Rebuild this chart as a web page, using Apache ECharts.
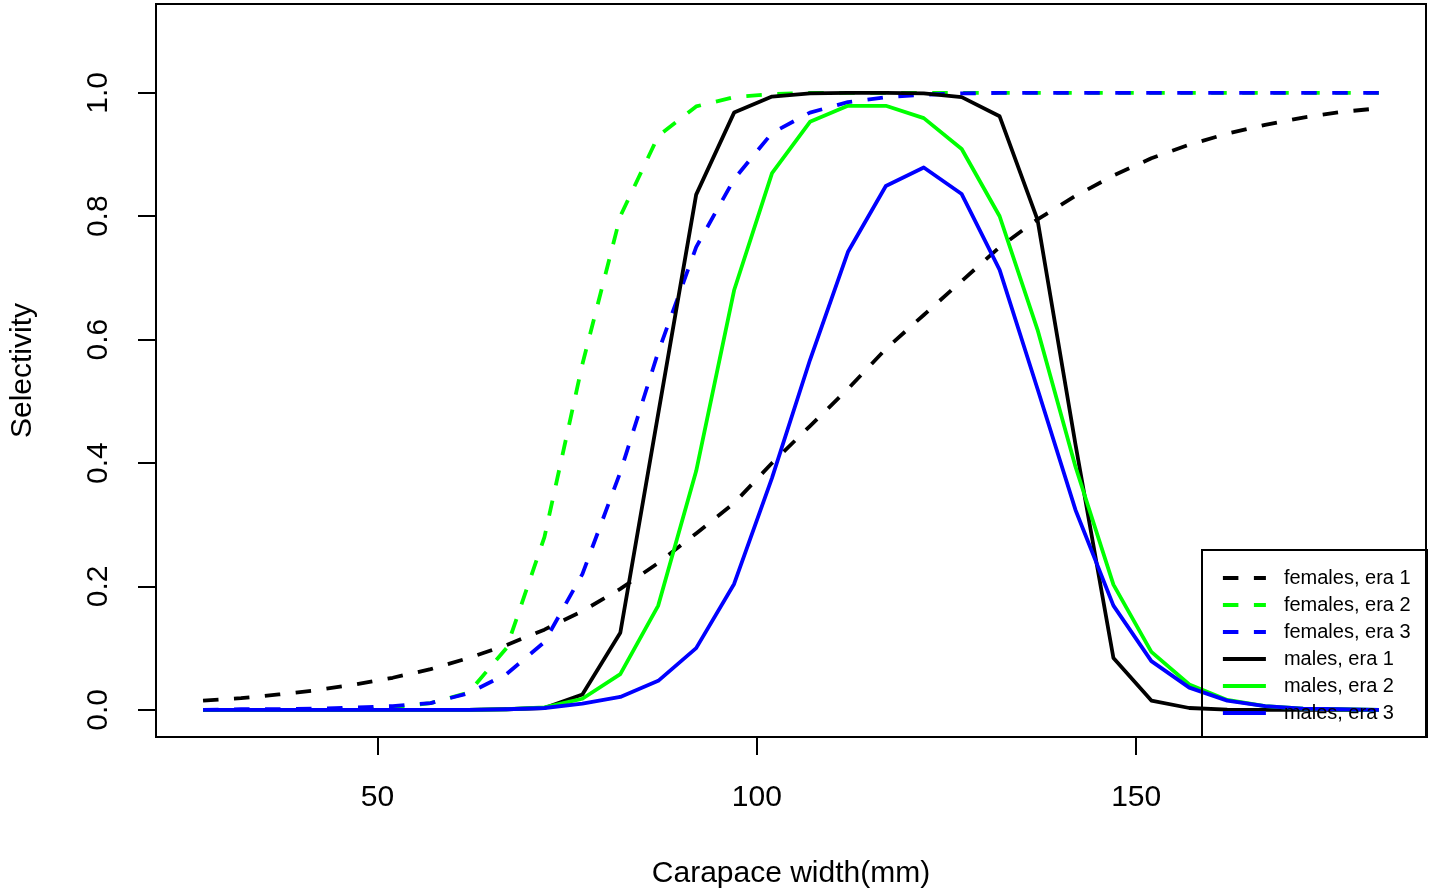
<!DOCTYPE html>
<html>
<head>
<meta charset="utf-8">
<script src="https://cdn.jsdelivr.net/npm/echarts@6/dist/echarts.min.js"></script>
<style>
html,body{margin:0;padding:0;background:#fff;}
#chart{width:1436px;height:894px;}
</style>
</head>
<body>
<div id="chart"></div>
<script>
// Carapace width (mm)
const widths = [27,32,37,42,47,52,57,62,67,72,77,82,87,92,97,102,107,112,117,122,127,132,137,142,147,152,157,162,167,172,177,182];

const femalesEra1 = [0.015,0.019,0.025,0.032,0.041,0.052,0.066,0.084,0.105,0.13,0.16,0.196,0.238,0.286,0.335,0.40,0.46,0.52,0.585,0.64,0.695,0.75,0.795,0.833,0.866,0.894,0.916,0.934,0.948,0.96,0.969,0.975];
const femalesEra2 = [0,0,0,0.0001,0.001,0.003,0.011,0.028,0.10,0.28,0.56,0.80,0.93,0.978,0.993,0.998,1,1,1,1,1,1,1,1,1,1,1,1,1,1,1,1];
const femalesEra3 = [0,0.001,0.001,0.002,0.004,0.006,0.011,0.027,0.058,0.11,0.22,0.385,0.58,0.75,0.86,0.935,0.968,0.985,0.993,0.997,0.999,1,1,1,1,1,1,1,1,1,1,1];
const malesEra1 = [0,0,0,0,0,0,0,0,0.001,0.003,0.025,0.125,0.48,0.835,0.968,0.994,0.999,1,1,0.999,0.993,0.962,0.794,0.43,0.084,0.015,0.003,0.0005,0,0,0,0];
const malesEra2 = [0,0,0,0,0,0,0,0,0.001,0.004,0.018,0.058,0.169,0.387,0.68,0.87,0.953,0.979,0.979,0.959,0.909,0.80,0.616,0.394,0.203,0.094,0.041,0.016,0.006,0.002,0.001,0];
const malesEra3 = [0,0,0,0,0,0,0,0,0.001,0.003,0.01,0.021,0.047,0.10,0.204,0.376,0.567,0.742,0.849,0.879,0.836,0.713,0.52,0.324,0.169,0.079,0.036,0.015,0.006,0.002,0.001,0];

const xTicks = [50,100,150];
const yTicks = [0,0.2,0.4,0.6,0.8,1.0];

const seriesDefs = [
  {name:'females, era 1', data:femalesEra1, color:'#000000', dashed:true},
  {name:'females, era 2', data:femalesEra2, color:'#00FF00', dashed:true},
  {name:'females, era 3', data:femalesEra3, color:'#0000FF', dashed:true},
  {name:'males, era 1', data:malesEra1, color:'#000000', dashed:false},
  {name:'males, era 2', data:malesEra2, color:'#00FF00', dashed:false},
  {name:'males, era 3', data:malesEra3, color:'#0000FF', dashed:false}
];

const FONT = '"Liberation Sans", Arial, Helvetica, sans-serif';
const LW = 3.8;

const chart = echarts.init(document.getElementById('chart'), null, {renderer:'canvas'});
chart.setOption({
  animation:false,
  backgroundColor:'#ffffff',
  textStyle:{fontFamily:FONT},
  grid:{left:156, top:4, width:1270, height:733, show:true, borderColor:'#000', borderWidth:2, backgroundColor:'transparent'},
  xAxis:{
    type:'value', min:20.8, max:188.2,
    name:'Carapace width(mm)', nameLocation:'middle', nameGap:122,
    nameTextStyle:{fontSize:30, color:'#000', fontFamily:FONT},
    axisLine:{show:false, onZero:false},
    splitLine:{show:false},
    axisTick:{show:true, inside:false, length:18, customValues:xTicks, lineStyle:{color:'#000', width:2}},
    axisLabel:{show:true, margin:46, fontSize:30, color:'#000', fontFamily:FONT, customValues:xTicks}
  },
  yAxis:{
    type:'value', min:-0.044, max:1.144,
    name:'Selectivity', nameLocation:'middle', nameGap:118, nameRotate:90,
    nameTextStyle:{fontSize:30, color:'#000', fontFamily:FONT},
    axisLine:{show:false, onZero:false},
    splitLine:{show:false},
    axisTick:{show:true, inside:false, length:18, customValues:yTicks, lineStyle:{color:'#000', width:2}},
    axisLabel:{show:true, margin:42, rotate:90, fontSize:30, color:'#000', fontFamily:FONT, customValues:yTicks,
      formatter:function(v){return Number(v).toFixed(1);}}
  },
  legend:{
    orient:'vertical', left:1221, top:568, padding:0,
    itemWidth:43, itemHeight:14, itemGap:7,
    selectedMode:false,
    textStyle:{fontSize:20, color:'#000', fontFamily:FONT, padding:[0,0,0,13]},
    lineStyle:{width:LW},
    itemStyle:{opacity:0, color:'transparent', borderWidth:0},
    data:seriesDefs.map(s=>s.name)
  },
  graphic:[{
    type:'rect', z:100,
    shape:{x:1202, y:550, width:225, height:187},
    style:{fill:'none', stroke:'#000', lineWidth:2}
  }],
  series:seriesDefs.map(s=>({
    type:'line', name:s.name,
    data:widths.map((w,i)=>[w, s.data[i]]),
    symbol:'none', showSymbol:false,
    itemStyle:{color:s.color},
    lineStyle:{color:s.color, width:LW, type:s.dashed?[15.5,15.5]:'solid', cap:'butt', join:'round'},
    emphasis:{disabled:true}
  }))
});
</script>
</body>
</html>
